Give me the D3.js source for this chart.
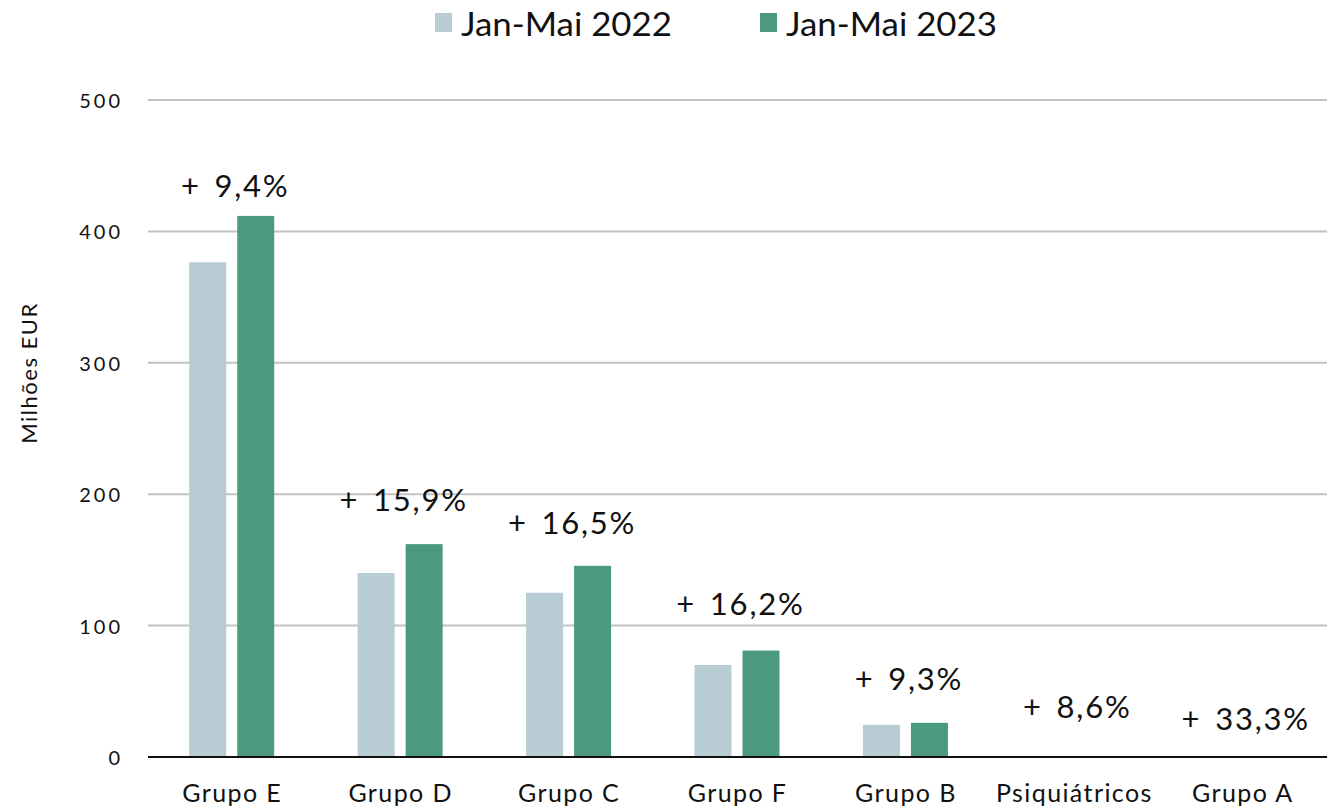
<!DOCTYPE html>
<html>
<head>
<meta charset="utf-8">
<script src="https://cdn.jsdelivr.net/npm/d3@7"></script>
<style>
  body { margin: 0; background: #fff; }
  text { font-family: Lato, "Open Sans", sans-serif; fill: #111; }
</style>
</head>
<body>
<svg width="1327" height="809"></svg>
<script>
const categories = ["Grupo E", "Grupo D", "Grupo C", "Grupo F", "Grupo B", "Psiquiátricos", "Grupo A"];
const series = ["Jan-Mai 2022", "Jan-Mai 2023"];
const values2022 = [376.5, 140, 125, 70, 24.5, 0.35, 0.03];
const values2023 = [411.8, 162, 145.5, 81, 26, 0.38, 0.04];
const changeLabels = ["+ 9,4%", "+ 15,9%", "+ 16,5%", "+ 16,2%", "+ 9,3%", "+ 8,6%", "+ 33,3%"];
// where the change labels sit, in axis units
const labelAt = [435, 196, 179, 117, 60, 39, 30];
const yTicks = [0, 100, 200, 300, 400, 500];
const colors = ["#b7cdd3", "#4b9a80"];

const margin = { top: 100, right: 0, bottom: 52, left: 148 };
const W = 1327, H = 809;
const width = W - margin.left - margin.right;
const height = H - margin.top - margin.bottom;

const svg = d3.select("svg");
const g = svg.append("g").attr("transform", `translate(${margin.left},${margin.top})`);

const x = d3.scaleBand().domain(categories).range([0, width]);
const y = d3.scaleLinear().domain([0, 500]).range([height, 0]);

// gridlines
g.append("g")
  .selectAll("line")
  .data(yTicks.filter(d => d > 0))
  .enter().append("line")
  .attr("x1", 0).attr("x2", width)
  .attr("y1", d => y(d)).attr("y2", d => y(d))
  .attr("stroke", "#c2c2c2").attr("stroke-width", 2);

// y tick labels
g.append("g")
  .selectAll("text")
  .data(yTicks)
  .enter().append("text")
  .attr("x", -25).attr("y", d => y(d))
  .attr("text-anchor", "end")
  .attr("dominant-baseline", "central")
  .style("font-size", "20px")
  .style("letter-spacing", "3px")
  .text(d => d);

svg.append("text")
  .attr("transform", "translate(28,373) rotate(-90)")
  .attr("text-anchor", "middle")
  .attr("dominant-baseline", "central")
  .style("font-size", "22px")
  .style("letter-spacing", "1.5px")
  .text("Milhões EUR");

const data = categories.map((c, i) => ({ cat: c, v: [values2022[i], values2023[i]] }));
const barW = 37;
const offs = [-43, 5];

const groups = g.append("g").selectAll("g")
  .data(data).enter().append("g")
  .attr("transform", d => `translate(${x(d.cat) + x.bandwidth() / 2},0)`);

groups.selectAll("rect")
  .data(d => d.v)
  .enter().append("rect")
  .attr("x", (d, i) => offs[i])
  .attr("width", barW)
  .attr("y", d => y(d))
  .attr("height", d => height - y(d))
  .attr("fill", (d, i) => colors[i]);

groups.append("text")
  .attr("x", 3)
  .attr("y", (d, i) => y(labelAt[i]))
  .attr("text-anchor", "middle")
  .attr("dominant-baseline", "central")
  .style("font-size", "31px")
  .style("letter-spacing", "1.8px")
  .style("word-spacing", "4px")
  .text((d, i) => changeLabels[i]);

// baseline
g.append("line")
  .attr("x1", 0).attr("x2", width)
  .attr("y1", y(0)).attr("y2", y(0))
  .attr("stroke", "#111").attr("stroke-width", 2);

// category labels
g.append("g").selectAll("text")
  .data(categories).enter().append("text")
  .attr("x", d => x(d) + x.bandwidth() / 2)
  .attr("y", height + 35)
  .attr("text-anchor", "middle")
  .attr("dominant-baseline", "central")
  .style("font-size", "25px")
  .style("letter-spacing", "1.4px")
  .text(d => d);

// legend
const legendX = [435, 760];
const legend = svg.append("g").selectAll("g")
  .data(series).enter().append("g")
  .attr("transform", (d, i) => `translate(${legendX[i]},13)`);
legend.append("rect")
  .attr("width", 17).attr("height", 19)
  .attr("fill", (d, i) => colors[i]);
legend.append("text")
  .attr("x", 26).attr("y", 10)
  .attr("dominant-baseline", "central")
  .style("font-size", "32px")
  .attr("textLength", 211)
  .attr("lengthAdjust", "spacingAndGlyphs")
  .text(d => d);
</script>
</body>
</html>
